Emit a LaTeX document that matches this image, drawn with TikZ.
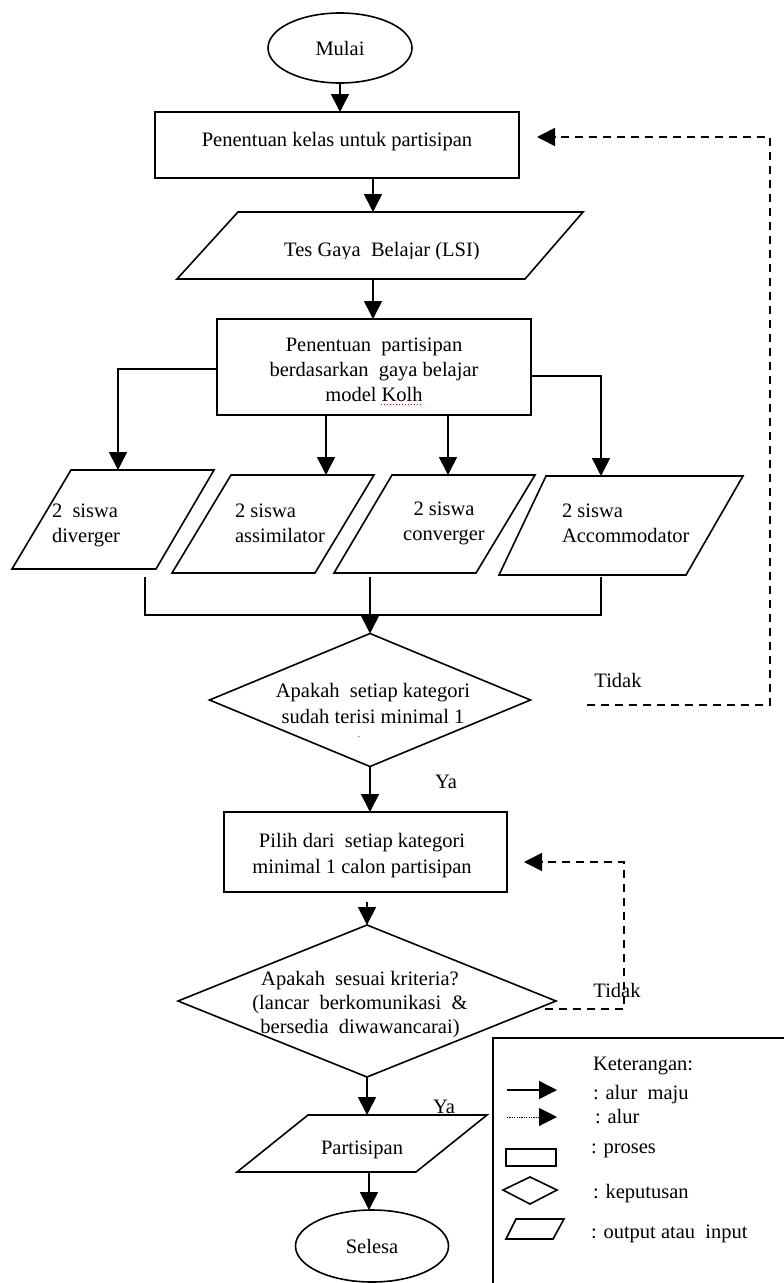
\documentclass[tikz,border=0pt]{standalone}
\usepackage{fontspec}
\setmainfont{Liberation Serif}
\usetikzlibrary{arrows.meta,shapes.geometric,calc}
\begin{document}
\begin{tikzpicture}[x=1pt,y=-1pt,
  every node/.style={font=\fontsize{20.5}{25}\selectfont, inner sep=0pt, outer sep=0pt},
  shp/.style={draw, line width=1.6pt},
  procbox/.style={shp, rectangle},
  term/.style={shp, ellipse},
  decis/.style={shp, diamond},
  lbl/.style={anchor=base},
  lblw/.style={anchor=base west},
  ln/.style={line width=1.6pt},
  arr/.style={line width=1.6pt, -{Triangle[width=18pt,length=18pt]}},
  darr/.style={line width=1.6pt, dash pattern=on 8pt off 6pt, -{Triangle[width=18pt,length=18pt]}},
  dotarr/.style={line width=1pt, dash pattern=on 1.2pt off 1.2pt, -{Triangle[width=18pt,length=18pt]}}
]
\useasboundingbox (0,0) rectangle (784,1283);
\clip (0,0) rectangle (784,1283);

% Start
\node[term, minimum width=144pt, minimum height=70pt] (mulai) at (340,48) {Mulai};

% Process 1
\node[procbox, minimum width=364pt, minimum height=66pt] (r1) at (337,145) {};
\node[lbl] (r1t) at (337,146) {Penentuan kelas untuk partisipan};

% Input: Tes Gaya Belajar
\draw[shp] (238,212) -- (583,212) -- (525,279) -- (177,279) -- cycle;
\begin{scope}
  \clip (177,212) rectangle (583,258);
  \node[lbl] (tes) at (382,256) {Tes Gaya\ \ Belajar (LSI)};
\end{scope}
\coordinate (tesT) at (373,212);
\coordinate (tesB) at (373,279);

% Process 2
\node[procbox, minimum width=314pt, minimum height=96pt] (r2) at (374,367) {};
\begin{scope}
  \clip (217,319) rectangle (531,403);
  \node[lbl, align=center] (r2t) at (374,401) {Penentuan\ \ partisipan\\berdasarkan\ \ gaya belajar\\model Kolh};
\end{scope}
\coordinate (kolA) at (381,404);
\coordinate (kolB) at (422,404);
\draw[red, line width=1pt, dash pattern=on 1.2pt off 1.8pt] (kolA) -- (kolB);

% Four categories
\draw[shp] (71,470) -- (214,470) -- (156,569) -- (12,569) -- cycle;
\draw[shp] (231,475) -- (374,475) -- (315,573) -- (172,573) -- cycle;
\draw[shp] (392,475) -- (535,475) -- (476,573) -- (334,573) -- cycle;
\draw[shp] (546,476) -- (743,476) -- (686,575) -- (499,575) -- cycle;
\node[lblw, align=left] (p1t) at (52,542) {2\ \ siswa\\diverger};
\node[lblw, align=left] (p2t) at (235,542) {2 siswa\\assimilator};
\node[lbl, align=center] (p3t) at (444,540) {2 siswa\\converger};
\node[lblw, align=left] (p4t) at (562,542) {2 siswa\\Accommodator};

\coordinate (p1T) at (118,470);
\coordinate (p2T) at (326,475);
\coordinate (p3T) at (448,475);
\coordinate (p4T) at (601,476);
\coordinate (p1B) at (145,577);
\coordinate (p3B) at (370,577);
\coordinate (p4B) at (601,577);
\coordinate (join) at (370,615);

% Decision 1
\node[decis, minimum width=321pt, minimum height=133pt] (d1) at (370,700) {};
\node[lbl, align=center, font=\fontsize{20.5}{26}\selectfont] (d1t) at (373,723) {Apakah\ \ setiap kategori\\sudah terisi minimal 1};
\node[lbl, font=\fontsize{9}{10}\selectfont] (d1dot) at (359,737) {.};
\node[lbl] (tdk1) at (618,687) {Tidak};
\node[lbl] (ya1) at (446,788) {Ya};
\coordinate (t1s) at (587,705);
\coordinate (t1c) at (770,137);
\coordinate (r1in) at (537,137);

% Process 3
\node[procbox, minimum width=283pt, minimum height=80pt] (r3) at (365.5,852) {};
\node[lbl, align=center, font=\fontsize{20.5}{26}\selectfont] (r3t) at (362,873) {Pilih dari\ \ setiap kategori\\minimal 1 calon partisipan};

% Decision 2
\node[decis, minimum width=378pt, minimum height=152pt] (d2) at (367,1001) {};
\node[lbl, align=center, font=\fontsize{20.5}{24}\selectfont] (d2t) at (360,1033) {Apakah\ \ sesuai kriteria?\\(lancar\ \ berkomunikasi\ \ \&\\bersedia\ \ diwawancarai)};
\node[lbl] (tdk2) at (617,997) {Tidak};
\node[lbl] (ya2) at (444,1113) {Ya};
\coordinate (t2s) at (545,1009);
\coordinate (t2c) at (624,862);
\coordinate (r3in) at (524,862);

% Output: Partisipan
\draw[shp] (308,1115) -- (487,1115) -- (416,1172) -- (237,1172) -- cycle;
\node[lbl] (ppt) at (362,1154) {Partisipan};
\coordinate (ppT) at (367,1115);
\coordinate (ppB) at (369,1172);

% End
\node[term, minimum width=153pt, minimum height=72pt] (selesa) at (372,1246) {Selesa};

% Connectors
\draw[arr] (mulai.south) -- (mulai.south |- r1.north);
\draw[arr] (r1.south -| tesT) -- (tesT);
\draw[arr] (tesB) -- (tesB |- r2.north);
\draw[arr] ([yshift=-2pt]r2.west) -| (p1T);
\draw[arr] (r2.south -| p2T) -- (p2T);
\draw[arr] (r2.south -| p3T) -- (p3T);
\draw[arr] ([yshift=-9pt]r2.east) -| (p4T);
\draw[ln] (p1B) |- (join) -| (p4B);
\draw[arr] (p3B) -- (d1.north);
\draw[darr] (t1s) -| (t1c) -- (r1in);
\draw[arr] (d1.south) -- (d1.south |- r3.north);
\draw[arr] ([yshift=-10pt]r3.south -| d2.north) -- (d2.north);
\draw[darr] (t2s) -| (t2c) -- (r3in);
\draw[arr] (d2.south) -- (ppT);
\draw[arr] (ppB) -- (ppB |- selesa.north);

% Legend
\node[procbox, anchor=north west, minimum width=320pt, minimum height=270pt] (leg) at (493,1038) {};
\node[lblw] (legt) at (593,1070) {Keterangan:};
\coordinate (la1) at (507,1090);
\coordinate (la2) at (557,1090);
\draw[arr] (la1) -- (la2);
\node[lblw] (legA) at (593,1099) {: alur\ \ maju};
\coordinate (lb1) at (507,1117);
\coordinate (lb2) at (557,1117);
\draw[dotarr] (lb1) -- (lb2);
\node[lblw] (legB) at (595,1123) {: alur};
\draw[shp] (506,1149) rectangle (556,1166);
\node[lblw] (legC) at (591,1153) {: proses};
\draw[shp] (503,1190) -- (530,1177) -- (557,1190) -- (530,1204) -- cycle;
\node[lblw] (legD) at (593,1198) {: keputusan};
\draw[shp] (516,1219) -- (564,1219) -- (553,1239) -- (506,1239) -- cycle;
\node[lblw] (legE) at (591,1238) {: output atau\ \ input};
\end{tikzpicture}
\end{document}
